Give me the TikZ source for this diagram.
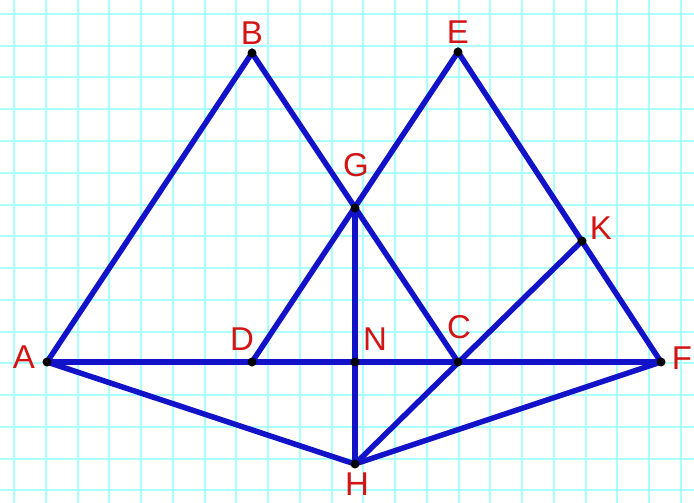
\documentclass[tikz,border=0pt]{standalone}
\usepackage{fontspec}
\setmainfont{Liberation Sans}
\definecolor{gridc}{RGB}{170,255,255}
\definecolor{segc}{RGB}{18,18,200}
\definecolor{labc}{RGB}{210,20,20}
\tikzset{
  seg/.style={draw=segc, line width=5.5pt, line cap=round},
  pt/.style={circle, fill=black, inner sep=0pt, minimum size=9pt},
  lab/.style={text=labc, font=\fontsize{33}{33}\selectfont, inner sep=0pt},
  gridline/.style={draw=gridc, line width=2pt}
}
\begin{document}
\begin{tikzpicture}[x=1pt, y=-1pt]
\fill[white] (0,0) rectangle (694,503);
\useasboundingbox (0,0) rectangle (694,503);
\foreach \k in {0,...,21} {
  \draw[gridline] ({14+31.75*\k},0) -- ({14+31.75*\k},503);
}
\foreach \k in {0,...,15} {
  \draw[gridline] (0,{14+31.75*\k}) -- (694,{14+31.75*\k});
}
\coordinate (A) at (47,362);
\coordinate (B) at (252,53);
\coordinate (E) at (458,52);
\coordinate (G) at (355,208);
\coordinate (D) at (252,362);
\coordinate (N) at (355,362);
\coordinate (C) at (458,362);
\coordinate (F) at (661,362);
\coordinate (K) at (582,241);
\coordinate (H) at (355,464);
\draw[seg] (A) -- (B) -- (C);
\draw[seg] (D) -- (E) -- (F);
\draw[seg] (A) -- (F);
\draw[seg] (A) -- (H) -- (F);
\draw[seg] (G) -- (H);
\draw[seg] (H) -- (K);
\foreach \p in {A,B,E,G,D,N,C,F,K,H} { \node[pt] at (\p) {}; }
\node[lab] (lA) at (24,357) {A};
\node[lab] (lB) at (252,33) {B};
\node[lab] (lE) at (458,32) {E};
\node[lab] (lG) at (356,165) {G};
\node[lab] (lK) at (601,228) {K};
\node[lab] (lD) at (242,339) {D};
\node[lab] (lN) at (375,339) {N};
\node[lab] (lC) at (459,327) {C};
\node[lab] (lF) at (682,358) {F};
\node[lab] (lH) at (357,484) {H};
\end{tikzpicture}
\end{document}
